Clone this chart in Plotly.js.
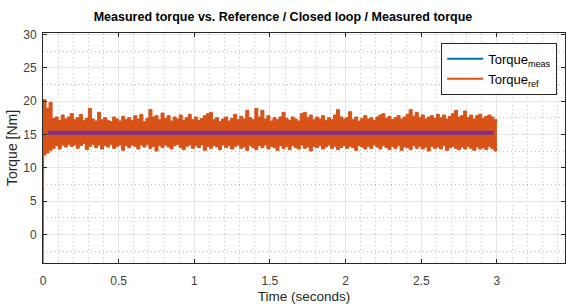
<!DOCTYPE html>
<html><head><meta charset="utf-8">
<script src="https://cdn.plot.ly/plotly-3.0.1.min.js"></script>
<style>html,body{margin:0;padding:0;background:#fff}#c{width:566px;height:304px}</style>
</head><body><div id="c"></div>
<script>
// sample times of the reference envelope (s), step 0.02 from 0 to 3.00
const refStep = 0.02;
// upper envelope of Torque_ref (Nm)
const refUpper = [
20.2,18.9,19.8,17.4,17.6,17.1,17.9,17.3,17.6,18.1,
17.2,17.5,18.0,17.1,17.4,18.9,17.3,17.0,18.3,17.2,
17.5,17.1,16.9,17.6,17.3,17.0,17.7,17.2,17.5,17.1,
17.8,17.3,18.0,16.9,17.4,18.7,17.6,17.8,17.2,18.2,
17.4,17.8,17.0,17.6,17.3,17.9,17.1,17.5,18.0,17.2,
17.6,17.1,17.4,17.8,18.1,18.3,17.2,17.5,16.9,17.3,
17.6,17.0,17.4,18.0,17.2,17.7,17.3,18.6,17.5,17.2,
18.9,17.6,18.6,17.3,17.8,17.0,17.5,17.2,17.6,18.3,
17.4,17.1,17.6,17.3,17.0,18.1,18.3,17.5,17.9,17.2,
17.6,17.3,17.8,17.1,17.5,17.2,17.9,18.7,17.6,17.3,
17.5,18.4,17.2,17.6,17.0,17.4,17.8,17.3,17.5,17.1,
17.6,17.9,18.1,17.4,17.7,17.2,17.5,17.8,17.3,17.6,
18.0,18.7,17.7,18.3,17.5,17.9,17.3,17.6,17.8,17.4,
18.0,17.5,17.9,17.3,17.7,18.1,18.6,17.6,17.8,18.5,
17.5,17.9,17.3,17.8,18.0,17.4,17.7,17.9,17.6,17.2,
16.8];
// lower envelope of Torque_ref (Nm)
const refLower = [
11.9,12.2,12.6,12.9,13.3,12.8,13.4,13.1,13.5,13.2,
13.4,12.9,13.3,13.6,12.7,13.2,13.5,13.0,13.4,12.8,
13.3,13.1,13.5,12.9,13.2,13.4,12.6,13.3,13.0,13.4,
13.2,12.8,13.4,13.1,13.5,12.9,13.2,12.5,13.3,13.0,
13.4,13.1,12.8,13.3,13.5,13.0,12.7,13.2,13.4,12.9,
13.3,13.0,13.4,12.6,13.2,12.9,13.3,13.1,12.7,13.4,
13.0,13.3,12.8,13.2,13.4,12.9,13.1,12.6,13.3,13.0,
12.7,13.3,13.0,13.4,12.8,13.2,13.0,12.6,13.3,12.9,
13.2,12.7,13.3,13.0,12.8,13.4,12.9,13.1,12.5,13.2,
13.0,13.3,12.8,13.1,13.4,12.9,13.2,12.7,13.0,13.3,
12.9,13.2,13.0,12.6,13.3,13.1,12.8,13.2,12.9,13.4,
13.1,12.8,13.3,13.0,12.7,13.2,12.9,13.3,12.6,13.1,
13.0,12.7,13.3,12.9,13.2,12.8,13.1,12.5,13.2,12.9,
13.1,12.8,13.3,12.6,13.0,13.2,12.9,12.7,13.1,12.8,
13.2,12.9,12.6,13.1,12.8,13.0,12.7,13.2,12.9,12.5,
12.9];
// initial step of the reference at t = 0
const startT = [0, 0.004];
const startV = [-6, 20.2];
// measured torque (flat line)
const measT = [0.03, 2.98];
const measV = [15.25, 15.25];
// axis ticks
const xTicks = [0, 0.5, 1, 1.5, 2, 2.5, 3];
const xTickText = ['0','0.5','1','1.5','2','2.5','3'];
const yTicks = [0, 5, 10, 15, 20, 25, 30];

const refT = refUpper.map((_, i) => +(i * refStep).toFixed(3));
const ORANGE = '#D95319', BLUE = '#0072BD', PURPLE = '#7E2F8E';
const FONT = 'Liberation Sans, Arial, sans-serif';

const traces = [
  {x: startT, y: startV, mode: 'lines', line: {color: ORANGE, width: 1.5}, showlegend: false, hoverinfo: 'skip'},
  {x: refT, y: refLower, mode: 'lines', line: {color: ORANGE, width: 1, shape: 'hv'}, showlegend: false},
  {x: refT, y: refUpper, mode: 'lines', line: {color: ORANGE, width: 1, shape: 'hv'}, fill: 'tonexty', fillcolor: ORANGE, showlegend: false},
  {x: measT, y: measV, mode: 'lines', line: {color: PURPLE, width: 4}, showlegend: false},
  {x: [null], y: [null], mode: 'lines', line: {color: BLUE, width: 2}, name: 'Torque<sub>meas</sub>'},
  {x: [null], y: [null], mode: 'lines', line: {color: ORANGE, width: 2}, name: 'Torque<sub>ref</sub>'}
];

const axisCommon = {
  showline: true, linecolor: '#262626', linewidth: 1, mirror: 'allticks',
  ticks: 'inside', ticklen: 4, tickcolor: '#262626',
  showgrid: true, gridcolor: '#e6e6e6', gridwidth: 1,
  zeroline: false,
  tickfont: {family: FONT, size: 12, color: '#404040'}
};

const layout = {
  width: 566, height: 304,
  margin: {l: 43, r: 1, t: 33, b: 41},
  paper_bgcolor: '#fff', plot_bgcolor: '#fff',
  title: {text: '<b>Measured torque vs. Reference / Closed loop / Measured torque</b>',
          font: {family: FONT, size: 12.5, color: '#000'},
          x: 0.5, xanchor: 'center', y: 0.945, yanchor: 'middle'},
  xaxis: Object.assign({}, axisCommon, {
    range: [0, 3.45], tickvals: xTicks, ticktext: xTickText, ticklabelstandoff: 7,
    minor: {dtick: 0.1, showgrid: true, gridcolor: '#c4c4c4', griddash: '1px,3px', gridwidth: 1, ticks: ''},
    title: {text: 'Time (seconds)', font: {family: FONT, size: 13.5, color: '#262626'}, standoff: 4}
  }),
  yaxis: Object.assign({}, axisCommon, {
    range: [-4.3, 30.2], tickvals: yTicks, ticklabelstandoff: 3,
    minor: {dtick: 2.5, tick0: 0, showgrid: true, gridcolor: '#c4c4c4', griddash: '1px,3px', gridwidth: 1, ticks: ''},
    title: {text: 'Torque [Nm]', font: {family: FONT, size: 14, color: '#262626'}, standoff: 2}
  }),
  legend: {x: 0.985, xanchor: 'right', y: 0.957, yanchor: 'top', traceorder: 'normal',
           bgcolor: '#fff', bordercolor: '#262626', borderwidth: 1,
           font: {family: FONT, size: 13, color: '#000'},
           itemwidth: 36},
  showlegend: true
};

Plotly.newPlot('c', traces, layout, {staticPlot: true, displayModeBar: false});
</script></body></html>
